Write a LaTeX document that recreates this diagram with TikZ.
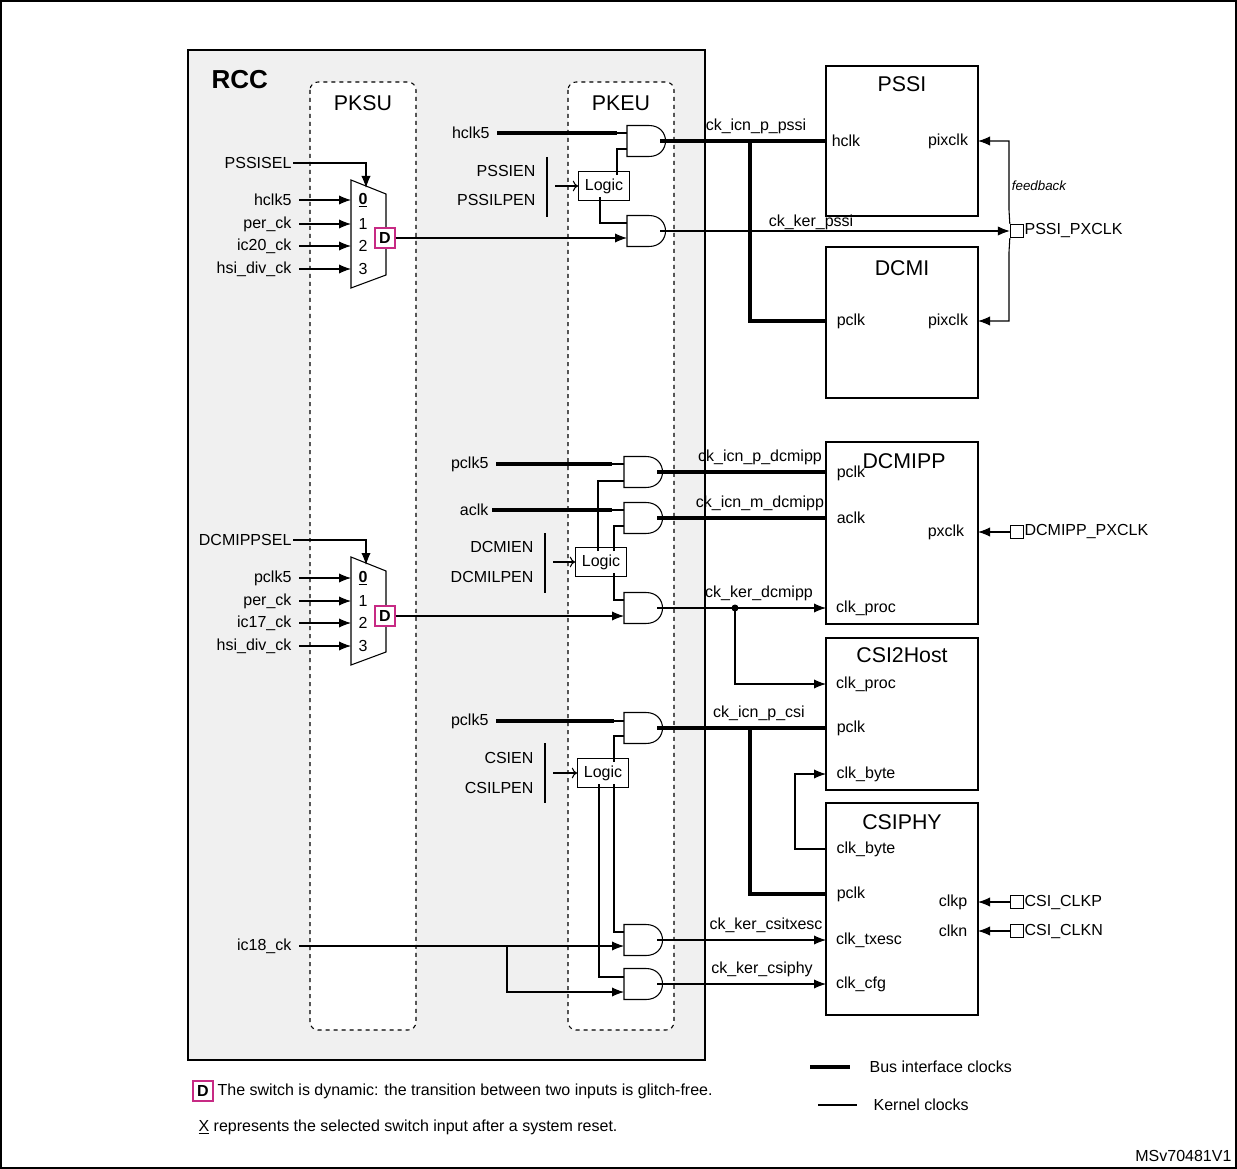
\documentclass[tikz,border=0pt]{standalone}
\usepackage{fontspec}
\setmainfont{Liberation Sans}
\usetikzlibrary{arrows.meta}
\begin{document}
\begin{tikzpicture}[x=0.75pt,y=-0.75pt,
  every node/.style={font=\fontsize{12}{14}\selectfont, inner sep=1pt},
  thin/.style={line width=0.8pt},
  bus/.style={line width=2.3pt},
  arr/.style={thin,-{Latex[length=9pt,width=7pt]}},
  oarr/.style={thin,-{To[length=4pt,width=8pt]}},
  title/.style={font=\fontsize{16}{18}\selectfont},
  blk/.style={draw,line width=0.8pt,fill=white},
  dbox/.style={draw=magenta!80!black,line width=0.9pt,fill=white,minimum size=15pt,inner sep=0pt,font=\fontsize{12}{14}\selectfont\bfseries},
  sq/.style={draw,line width=0.8pt,fill=white,minimum size=10pt,inner sep=0pt},
  lab/.style={anchor=east},
  andg/.pic={\draw[line width=0.8pt,fill=white] (0,-15.5)--(22,-15.5) .. controls (44,-15.5) and (44,15.5) .. (22,15.5) -- (0,15.5) -- cycle;},
  mux/.pic={\draw[line width=0.8pt,fill=white] (0,0)--(35,14)--(35,95)--(0,108)--cycle;}
]
\useasboundingbox (0,0) rectangle (1237,1169);
\draw[line width=0.8pt] (1,1) rectangle (1236,1168);
% RCC
\draw[line width=1.5pt,fill=black!6] (188,50) rectangle (705,1060);
\node[font=\fontsize{19.5}{22}\selectfont\bfseries,anchor=west] (rcc) at (210,80) {RCC};
\draw[dashed,thin,fill=white,rounded corners=6pt] (310,82) rectangle (416,1030);
\draw[dashed,thin,fill=white,rounded corners=6pt] (568,82) rectangle (674,1030);
\node[title] (pksu) at (363,103) {PKSU};
\node[title] (pkeu) at (621,103) {PKEU};

% ===== PSSI section =====
\pic at (351,180) {mux};
\foreach \y/\t/\n in {200/hclk5/a,224/per\_ck/b,246/ic20\_ck/c,269/hsi\_div\_ck/d}{
  \node[lab] (m1\n) at (293,\y) {\t};
  \draw[arr] (m1\n.east)++(6,0) -- (351,\y);}
\node at (363,200) {\underline{\textbf{0}}};
\node at (363,224) {1};\node at (363,246) {2};\node at (363,269) {3};
\node[dbox] (d1) at (385,238) {D};
\node[lab] (pssisel) at (293,163) {PSSISEL};
\draw[arr] (pssisel.east) -| (366,188);
\pic at (627,141) {andg};
\pic at (627,231) {andg};
\coordinate (g1o) at (660,141); \coordinate (g2o) at (660,231);
\node[lab] (hclk5a) at (491,133) {hclk5};
\draw[bus] (hclk5a.east)++(6,0) -- (617,133);
\draw[thin] (617,133) -- (627,133);
\node[draw,thin,fill=white,inner sep=0pt,minimum height=22pt,text width=38pt,align=center] (logic1) at (604,186) {Logic};
\draw[thin] (617,175) -- (617,149) -- (627,149);
\draw[thin] (600,197) -- (600,223) -- (627,223);
\node[lab] (pssien) at (537,171) {PSSIEN};
\node[lab] (pssilpen) at (537,200) {PSSILPEN};
\draw[thin] (547,157) -- (547,217);
\draw[oarr] (555,186) -- (logic1.west);
\draw[arr] (d1.east) -- (627,238);
% PSSI / DCMI blocks
\draw[blk] (826,66) rectangle (978,216);
\node[title] (pssi) at (902,84) {PSSI};
\node (pssihclk) at (846,141) {hclk};
\node (pssipix) at (948,141) {pixclk};
\draw[blk] (826,247) rectangle (978,398);
\node[title] (dcmi) at (902,268) {DCMI};
\node (dcmipclk) at (851,321) {pclk};
\node (dcmipix) at (948,321) {pixclk};
\draw[bus] (g1o) -- (826,141);
\draw[bus] (750,141) -- (750,321) -- (826,321);
\node[anchor=south] (l1) at (756,135) {ck\_icn\_p\_pssi};
\node[sq] (pxclk) at (1017,231) {};
\node[anchor=west] (pxclkl) at (1023,231) {PSSI\_PXCLK};
\draw[arr] (g2o) -- (pxclk.west);
\node[anchor=south] (l2) at (811,231) {ck\_ker\_pssi};
\draw[arr] (pxclk.north west) -- (1009,210) -- (1009,141) -- (978,141);
\draw[arr] (pxclk.south west) -- (1009,252) -- (1009,321) -- (978,321);
\node[font=\fontsize{10}{12}\selectfont\itshape] (fb) at (1039,186) {feedback};

% ===== DCMIPP section =====
\pic at (351,557) {mux};
\foreach \y/\t/\n in {578/pclk5/a,601/per\_ck/b,623/ic17\_ck/c,646/hsi\_div\_ck/d}{
  \node[lab] (m2\n) at (293,\y) {\t};
  \draw[arr] (m2\n.east)++(6,0) -- (351,\y);}
\node at (363,578) {\underline{\textbf{0}}};
\node at (363,601) {1};\node at (363,623) {2};\node at (363,646) {3};
\node[dbox] (d2) at (385,616) {D};
\node[lab] (dcmippsel) at (293,540) {DCMIPPSEL};
\draw[arr] (dcmippsel.east) -| (366,565);
\pic at (624,472) {andg};
\pic at (624,518) {andg};
\pic at (624,608) {andg};
\coordinate (g3o) at (657,472); \coordinate (g4o) at (657,518); \coordinate (g5o) at (657,608);
\node[lab] (pclk5a) at (490,464) {pclk5};
\draw[bus] (pclk5a.east)++(6,0) -- (612,464);
\draw[thin] (612,464) -- (624,464);
\node[lab] (aclk) at (490,510) {aclk};
\draw[bus] (aclk.east)++(2,0) -- (612,510);
\draw[thin] (612,510) -- (624,510);
\node[draw,thin,fill=white,inner sep=0pt,minimum height=22pt,text width=38pt,align=center] (logic2) at (601,562) {Logic};
\draw[thin] (598,551) -- (598,481) -- (624,481);
\draw[thin] (614,551) -- (614,526) -- (624,526);
\draw[thin] (614,573) -- (614,600) -- (624,600);
\node[lab] (dcmien) at (535,547) {DCMIEN};
\node[lab] (dcmilpen) at (535,577) {DCMILPEN};
\draw[thin] (545,533) -- (545,593);
\draw[oarr] (553,562) -- (logic2.west);
\draw[arr] (d2.east) -- (624,616);
\draw[blk] (826,442) rectangle (978,624);
\node[title] (dcmipp) at (904,461) {DCMIPP};
\node (ppclk) at (851,473) {pclk};
\node (paclk) at (851,518) {aclk};
\node (ppx) at (946,532) {pxclk};
\node (pproc) at (866,608) {clk\_proc};
\draw[bus] (g3o) -- (826,472);
\draw[bus] (g4o) -- (826,518);
\node[anchor=south] (l3) at (760,466) {ck\_icn\_p\_dcmipp};
\node[anchor=south] (l4) at (760,512) {ck\_icn\_m\_dcmipp};
\draw[arr] (g5o) -- (826,608);
\node[anchor=south] (l5) at (759,602) {ck\_ker\_dcmipp};
\fill (735,608) circle (3.5);
\draw[arr] (735,608) -- (735,684) -- (826,684);
\node[sq] (dpx) at (1017,532) {};
\node[anchor=west] (dpxl) at (1023,532) {DCMIPP\_PXCLK};
\draw[arr] (dpx.west) -- (978,532);
% CSI2Host
\draw[blk] (826,638) rectangle (978,790);
\node[title] (csi2) at (902,655) {CSI2Host};
\node (cproc) at (866,684) {clk\_proc};
\node (cpclk) at (851,728) {pclk};
\node (cbyte) at (866,774) {clk\_byte};
% CSIPHY
\draw[blk] (826,803) rectangle (978,1015);
\node[title] (csiphy) at (902,822) {CSIPHY};
\node (ybyte) at (866,849) {clk\_byte};
\node (ypclk) at (851,894) {pclk};
\node (ytx) at (869,940) {clk\_txesc};
\node (ycfg) at (861,984) {clk\_cfg};
\node (yclkp) at (953,902) {clkp};
\node (yclkn) at (953,931) {clkn};
\draw[arr] (826,849) -- (795,849) -- (795,774) -- (826,774);
\node[sq] (sqp) at (1017,902) {};
\node[anchor=west] (sqpl) at (1023,902) {CSI\_CLKP};
\node[sq] (sqn) at (1017,931) {};
\node[anchor=west] (sqnl) at (1023,931) {CSI\_CLKN};
\draw[arr] (sqp.west) -- (978,902);
\draw[arr] (sqn.west) -- (978,931);

% ===== CSI section =====
\pic at (624,728) {andg};
\pic at (624,940) {andg};
\pic at (624,984) {andg};
\coordinate (g6o) at (657,728); \coordinate (g7o) at (657,940); \coordinate (g8o) at (657,984);
\node[lab] (pclk5b) at (490,721) {pclk5};
\draw[bus] (pclk5b.east)++(6,0) -- (614,721);
\draw[thin] (614,721) -- (624,721);
\node[draw,thin,fill=white,inner sep=0pt,minimum height=22pt,text width=38pt,align=center] (logic3) at (603,773) {Logic};
\draw[thin] (614,762) -- (614,736) -- (624,736);
\draw[thin] (614,784) -- (614,932) -- (624,932);
\draw[thin] (599,784) -- (599,977) -- (624,977);
\node[lab] (csien) at (535,758) {CSIEN};
\node[lab] (csilpen) at (535,788) {CSILPEN};
\draw[thin] (545,743) -- (545,803);
\draw[oarr] (553,773) -- (logic3.west);
\draw[bus] (g6o) -- (826,728);
\draw[bus] (750,728) -- (750,894) -- (826,894);
\node[anchor=south] (l6) at (759,722) {ck\_icn\_p\_csi};
\node[lab] (ic18) at (293,946) {ic18\_ck};
\draw[arr] (ic18.east)++(6,0) -- (624,946);
\draw[arr] (507,946) -- (507,992) -- (624,992);
\draw[arr] (g7o) -- (826,940);
\draw[arr] (g8o) -- (826,984);
\node[anchor=south] (l7) at (766,934) {ck\_ker\_csitxesc};
\node[anchor=south] (l8) at (762,978) {ck\_ker\_csiphy};

% ===== legend =====
\node[dbox] (dl) at (203,1091) {D};
\node[anchor=west] (dlt) at (216,1091) {The switch is dynamic: the transition between two inputs is glitch-free.};
\node[anchor=west] (xl) at (197,1127) {\underline{X} represents the selected switch input after a system reset.};
\draw[bus] (810,1067) -- (850,1067);
\node[anchor=west] (lb) at (868,1067) {Bus interface clocks};
\draw[thin] (818,1105) -- (857,1105);
\node[anchor=west] (lk) at (872,1105) {Kernel clocks};
\node[anchor=east] (ms) at (1233,1156) {MSv70481V1};
\end{tikzpicture}
\end{document}
